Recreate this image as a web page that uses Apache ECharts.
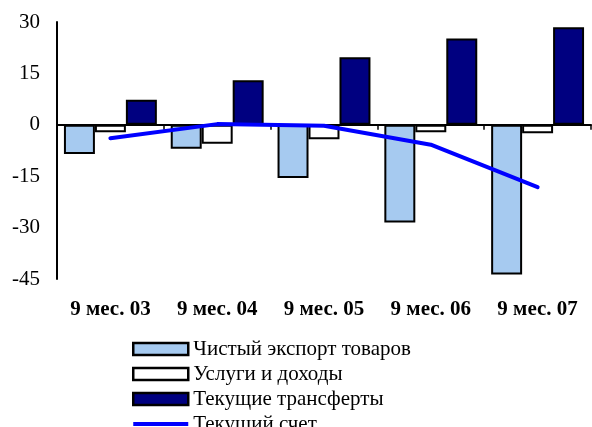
<!DOCTYPE html>
<html><head><meta charset="utf-8">
<script src="https://cdn.jsdelivr.net/npm/echarts@6/dist/echarts.min.js"></script>
<style>html,body{margin:0;padding:0;background:#fff}#c{width:592px;height:427px}</style>
</head><body><div id="c"></div>
<script>
const categories = ['9 мес. 03','9 мес. 04','9 мес. 05','9 мес. 06','9 мес. 07'];
const netExports = [-8.5, -7.0, -15.5, -28.5, -43.7];
const servicesIncome = [-2.2, -5.5, -4.2, -2.2, -2.5];
const transfers = [7.3, 13.0, 19.7, 25.2, 28.5];
const currentAccount = [-3.9, 0.2, -0.3, -5.8, -18.2];
const yTicks = {min: -45, max: 30, interval: 15};

const font = '"Liberation Serif", "Times New Roman", serif';
const chart = echarts.init(document.getElementById('c'));
const barStyle = (color) => ({color: color, borderColor: '#000', borderWidth: 2});
chart.setOption({
  animation: false,
  grid: {left: 57, right: 1, top: 22, bottom: 148},
  legend: {
    orient: 'vertical', left: 127, top: 332, height: 120,
    itemWidth: 55, itemHeight: 12, itemGap: 1,
    textStyle: {fontFamily: font, fontSize: 21, lineHeight: 24, color: '#000'},
    data: [
      {name: 'Чистый экспорт товаров', icon: 'rect', itemStyle: {borderWidth: 2.5}},
      {name: 'Услуги и доходы', icon: 'rect', itemStyle: {borderWidth: 2.5}},
      {name: 'Текущие трансферты', icon: 'rect', itemStyle: {borderWidth: 2.5}},
      {name: 'Текущий счет', icon: 'path://M0,0M55,12M0,4H55V8H0Z', itemStyle: {color: '#0000FF', borderWidth: 0}}
    ]
  },
  xAxis: [{
    type: 'category', data: categories,
    axisLine: {onZero: true, lineStyle: {color: '#000', width: 2}},
    axisTick: {show: true, length: 5, lineStyle: {color: '#000', width: 1.5}},
    axisLabel: {show: false}
  }, {
    type: 'category', data: categories, position: 'bottom',
    axisLine: {show: false, onZero: false}, axisTick: {show: false},
    axisLabel: {fontFamily: font, fontSize: 21, fontWeight: 'bold', color: '#000', margin: 20}
  }],
  yAxis: {
    type: 'value', min: yTicks.min, max: yTicks.max, interval: yTicks.interval,
    axisLine: {show: true, lineStyle: {color: '#000', width: 2}},
    axisTick: {show: false}, splitLine: {show: false},
    axisLabel: {fontFamily: font, fontSize: 21, color: '#000', margin: 17}
  },
  series: [
    {name: 'Чистый экспорт товаров', type: 'bar', data: netExports, barGap: '0%', barCategoryGap: '13%', itemStyle: barStyle('#A6CAF0')},
    {name: 'Услуги и доходы', type: 'bar', data: servicesIncome, itemStyle: barStyle('#FFFFFF')},
    {name: 'Текущие трансферты', type: 'bar', data: transfers, itemStyle: barStyle('#000080')},
    {name: 'Текущий счет', type: 'line', data: currentAccount, symbol: 'none', z: 5,
     lineStyle: {color: '#0000FF', width: 4, cap: 'round'}, itemStyle: {color: '#0000FF'}}
  ]
});
</script></body></html>
